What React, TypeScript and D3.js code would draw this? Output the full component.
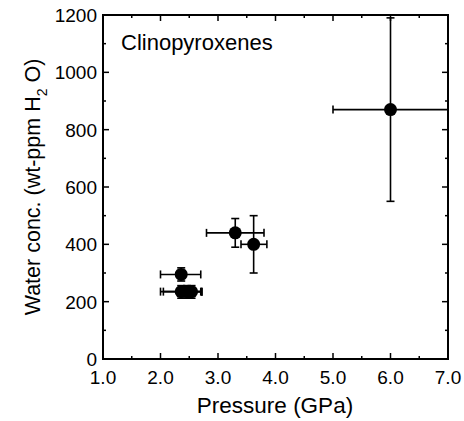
import React from "react";
import * as d3 from "d3";

const pressure = [6.0, 3.3, 3.62, 2.36, 2.36, 2.46, 2.54];
const water = [870, 440, 400, 295, 235, 235, 235];
const xLow = [5.0, 2.8, 3.4, 2.0, 2.0, 2.05, 2.4];
const xHigh = [7.0, 3.8, 3.85, 2.7, 2.7, 2.72, 2.72];
const yLow = [550, 390, 300, 272, 212, 212, 212];
const yHigh = [1190, 490, 500, 318, 256, 256, 256];
const xTicks = [1, 2, 3, 4, 5, 6, 7];
const yTicks = [0, 200, 400, 600, 800, 1000, 1200];

const W = 464, H = 421;
const L = 103, R = 448, T = 15, B = 359;
const font = "'Liberation Sans', Arial, Helvetica, sans-serif";

export default function App() {
  const x = d3.scaleLinear().domain([1, 7]).range([L, R]);
  const y = d3.scaleLinear().domain([0, 1200]).range([B, T]);
  const xMinor = d3.range(1.5, 7, 1);
  const yMinor = d3.range(100, 1200, 200);
  const cap = 4;
  return (
    <svg width={W} height={H} style={{ position: "absolute", left: 0, top: 0, background: "#fff" }}>
      <defs>
        <clipPath id="plot">
          <rect x={L} y={T - 2} width={R - L} height={B - T + 4} />
        </clipPath>
      </defs>
      <g stroke="#000" strokeWidth={1.6} fill="none" clipPath="url(#plot)">
        {pressure.map((p, i) => (
          <g key={i}>
            <line x1={x(xLow[i])} x2={x(xHigh[i])} y1={y(water[i])} y2={y(water[i])} />
            <line x1={x(xLow[i])} x2={x(xLow[i])} y1={y(water[i]) - cap} y2={y(water[i]) + cap} />
            <line x1={x(xHigh[i])} x2={x(xHigh[i])} y1={y(water[i]) - cap} y2={y(water[i]) + cap} />
            <line x1={x(p)} x2={x(p)} y1={y(yLow[i])} y2={y(yHigh[i])} />
            <line x1={x(p) - cap} x2={x(p) + cap} y1={y(yLow[i])} y2={y(yLow[i])} />
            <line x1={x(p) - cap} x2={x(p) + cap} y1={y(yHigh[i])} y2={y(yHigh[i])} />
          </g>
        ))}
      </g>
      <g fill="#000">
        {pressure.map((p, i) => (
          <circle key={i} cx={x(p)} cy={y(water[i])} r={6.5} />
        ))}
      </g>
      <rect x={L} y={T} width={R - L} height={B - T} fill="none" stroke="#000" strokeWidth={2} />
      <g stroke="#000" strokeWidth={1.5}>
        {xTicks.map((t) => (
          <g key={"xt" + t}>
            <line x1={x(t)} x2={x(t)} y1={B} y2={B - 6} />
            <line x1={x(t)} x2={x(t)} y1={T} y2={T + 6} />
          </g>
        ))}
        {xMinor.map((t) => (
          <g key={"xm" + t}>
            <line x1={x(t)} x2={x(t)} y1={B} y2={B - 3} />
            <line x1={x(t)} x2={x(t)} y1={T} y2={T + 3} />
          </g>
        ))}
        {yTicks.map((t) => (
          <g key={"yt" + t}>
            <line x1={L} x2={L + 6} y1={y(t)} y2={y(t)} />
            <line x1={R} x2={R - 6} y1={y(t)} y2={y(t)} />
          </g>
        ))}
        {yMinor.map((t) => (
          <g key={"ym" + t}>
            <line x1={L} x2={L + 3} y1={y(t)} y2={y(t)} />
            <line x1={R} x2={R - 3} y1={y(t)} y2={y(t)} />
          </g>
        ))}
      </g>
      <g fontFamily={font} fontSize={19} fill="#000">
        {xTicks.map((t) => (
          <text key={"xl" + t} x={x(t)} y={384} textAnchor="middle">
            {d3.format(".1f")(t)}
          </text>
        ))}
        {yTicks.map((t) => (
          <text key={"yl" + t} x={97} y={y(t) + 7} textAnchor="end">
            {t}
          </text>
        ))}
      </g>
      <text x={275} y={413} textAnchor="middle" fontFamily={font} fontSize={22.5}>
        Pressure (GPa)
      </text>
      <text
        transform={`translate(40, ${(T + B) / 2}) rotate(-90)`}
        textAnchor="middle"
        fontFamily={font}
        fontSize={21.5}
      >
        Water conc. (wt-ppm H
        <tspan fontSize={14} dy={7}>2</tspan>
        <tspan dy={-7}> O)</tspan>
      </text>
      <text x={121} y={50} fontFamily={font} fontSize={22}>
        Clinopyroxenes
      </text>
    </svg>
  );
}
